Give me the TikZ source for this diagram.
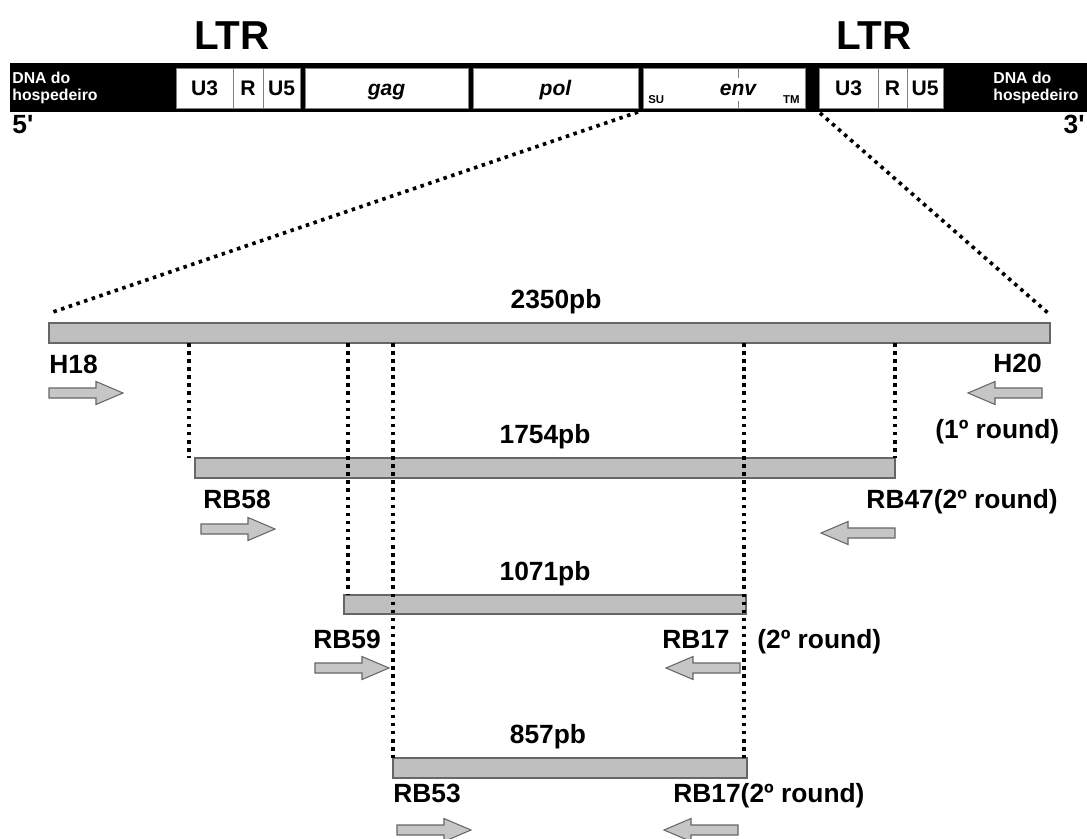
\documentclass[tikz,border=0pt]{standalone}
\usepackage{fontspec}
\setmainfont{Liberation Sans}
\tikzset{
  lbl/.style={font=\fontsize{15}{17}\selectfont\bfseries, inner sep=0pt},
  big/.style={font=\fontsize{23}{26}\selectfont\bfseries, inner sep=0pt},
  gene/.style={font=\fontsize{12}{14}\selectfont\bfseries\itshape, inner sep=0pt},
  seg/.style={font=\fontsize{12}{14}\selectfont\bfseries, inner sep=0pt},
  tiny/.style={font=\fontsize{6.5}{7}\selectfont\bfseries, inner sep=0pt},
  host/.style={font=\fontsize{9}{9.7}\selectfont\bfseries, text=white, inner sep=0pt, align=left},
  ltrbox/.style={draw=gray, fill=white, line width=0.4pt},
  dots/.style={line width=2.1pt, dash pattern=on 2pt off 2.6pt},
  band/.style={draw=gray!80!black, fill=gray!50, line width=0.6pt},
  parr/.style={draw=gray!80!black, fill=gray!45, line width=0.6pt},
  rarr/.pic={\draw[parr] (0,-5) -- (47,-5) -- (47,-11.5) -- (74,0) -- (47,11.5) -- (47,5) -- (0,5) -- cycle;},
  larr/.pic={\draw[parr] (0,-5) -- (-47,-5) -- (-47,-11.5) -- (-74,0) -- (-47,11.5) -- (-47,5) -- (0,5) -- cycle;},
}
\begin{document}
\begin{tikzpicture}[x=0.02cm,y=-0.02cm]
\useasboundingbox (0,0) rectangle (1087,838);

% ---------- genome bar ----------
\fill[black] (10,63) rectangle (1087,112);
\draw[ltrbox] (176,68) rectangle (233,108);
\draw[ltrbox] (233,68) rectangle (263,108);
\draw[ltrbox] (263,68) rectangle (300,108);
\draw[ltrbox] (305,68) rectangle (468,108);
\draw[ltrbox] (473,68) rectangle (638,108);
\draw[ltrbox] (643,68) rectangle (805,108);
\draw[ltrbox] (819,68) rectangle (878,108);
\draw[ltrbox] (878,68) rectangle (907,108);
\draw[ltrbox] (907,68) rectangle (943,108);
\draw[gray, line width=0.5pt] (738,68) -- (738,78);
\draw[gray, line width=0.5pt] (738,101) -- (738,108);

\node[big, anchor=base] (ltr1) at (232,50) {LTR};
\node[big, anchor=base] (ltr2) at (874,50) {LTR};
\node[host, anchor=west] (h1) at (12,87.5) {DNA do\\hospedeiro};
\node[host, anchor=west] (h2) at (993,87.5) {DNA do\\hospedeiro};
\node[seg, anchor=base] (u3a) at (204.5,95) {U3};
\node[seg, anchor=base] (ra) at (248,95) {R};
\node[seg, anchor=base] (u5a) at (281.5,95) {U5};
\node[gene, anchor=base] (gag) at (386.5,95) {gag};
\node[gene, anchor=base] (pol) at (555.5,95) {pol};
\node[gene, anchor=base] (env) at (738,95) {env};
\node[tiny, anchor=base west] (su) at (648,103) {SU};
\node[tiny, anchor=base east] (tm) at (800,103) {TM};
\node[seg, anchor=base] (u3b) at (848.5,95) {U3};
\node[seg, anchor=base] (rb) at (892.5,95) {R};
\node[seg, anchor=base] (u5b) at (925,95) {U5};
\node[lbl, anchor=base west] (five) at (12,133) {5\textquotesingle};
\node[lbl, anchor=base east] (three) at (1085,133) {3\textquotesingle};

% ---------- zoom lines ----------
\coordinate (envL) at (638,112);
\coordinate (envR) at (820,113);
\coordinate (bandL) at (50,313);
\coordinate (bandR) at (1048,313);
\draw[dots] (envL) -- (bandL);
\draw[dots] (envR) -- (bandR);

% ---------- bands ----------
\draw[band] (49,323) rectangle (1050,343);
\draw[band] (195,458) rectangle (895,478);
\draw[band] (344,595) rectangle (746,614);
\draw[band] (393,758) rectangle (747,778);

\node[lbl, anchor=base] (b1) at (556,308) {2350pb};
\node[lbl, anchor=base] (b2) at (545,443) {1754pb};
\node[lbl, anchor=base] (b3) at (545,580) {1071pb};
\node[lbl, anchor=base] (b4) at (548,743) {857pb};

% ---------- vertical dotted guides ----------
\coordinate (v1t) at (189,343); \coordinate (v1b) at (189,458);
\coordinate (v2t) at (895,343); \coordinate (v2b) at (895,458);
\coordinate (v3t) at (348,343); \coordinate (v3b) at (348,595);
\coordinate (v4t) at (393,343); \coordinate (v4b) at (393,758);
\coordinate (v5t) at (744,343); \coordinate (v5b) at (744,758);
\draw[dots] (v1t) -- (v1b);
\draw[dots] (v2t) -- (v2b);
\draw[dots] (v3t) -- (v3b);
\draw[dots] (v4t) -- (v4b);
\draw[dots] (v5t) -- (v5b);

% ---------- primers ----------
\node[lbl, anchor=base west] (h18) at (49,373) {H18};
\pic at (49,393) {rarr};
\node[lbl, anchor=base east] (h20) at (1042,372) {H20};
\pic at (1042,393) {larr};
\node[lbl, anchor=base west] (r1) at (935,438) {(1º round)};

\node[lbl, anchor=base west] (rb58) at (203,508) {RB58};
\pic at (201,529) {rarr};
\node[lbl, anchor=base east] (rb47) at (1058,508) {RB47(2º round)};
\pic at (895,533) {larr};

\node[lbl, anchor=base west] (rb59) at (313,648) {RB59};
\pic at (315,668) {rarr};
\node[lbl, anchor=base east] (rb17a) at (730,648) {RB17};
\node[lbl, anchor=base west] (r2) at (757,648) {(2º round)};
\pic at (740,668) {larr};

\node[lbl, anchor=base west] (rb53) at (393,802) {RB53};
\pic at (397,830) {rarr};
\node[lbl, anchor=base west] (rb17b) at (673,802) {RB17(2º round)};
\pic at (738,830) {larr};
\end{tikzpicture}
\end{document}
